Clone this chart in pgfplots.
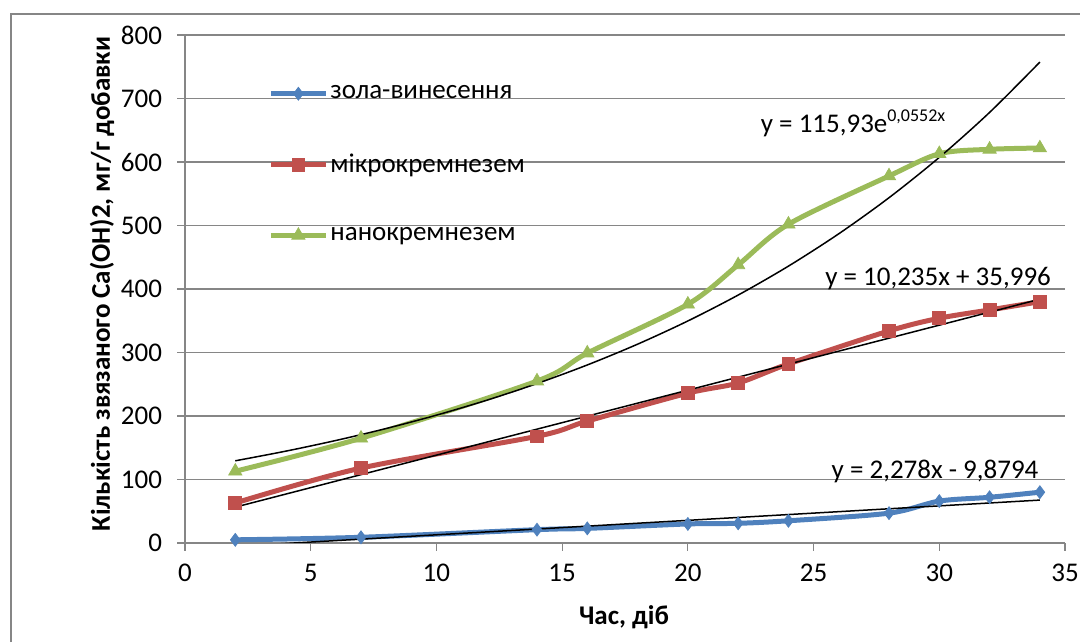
\documentclass[border=0pt]{standalone}
\usepackage{pgfplots}
\pgfplotsset{compat=1.18}
\usepackage{fontspec}
\setmainfont{Carlito}

\definecolor{xlblue}{HTML}{4F81BD}
\definecolor{xlred}{HTML}{C0504D}
\definecolor{xlgreen}{HTML}{9BBB59}
\definecolor{gridgray}{HTML}{868686}

\newcommand{\chartfont}{\fontsize{13.5}{15}\selectfont}

\begin{document}
\begin{tikzpicture}[x=1pt,y=1pt]
\useasboundingbox (0,0) rectangle (540,321);
% chart area frame
\draw[gridgray, line width=0.6pt] (5.5,0) -- (5.5,314) -- (540,314);

\begin{axis}[
  at={(92.5pt,49.5pt)}, anchor=south west,
  scale only axis, width=440pt, height=254pt,
  xmin=0, xmax=35, ymin=0, ymax=800,
  xtick={0,5,...,35}, ytick={0,100,...,800},
  axis x line*=bottom, axis y line*=left,
  axis line style={gridgray, line width=0.6pt},
  ymajorgrids, grid style={gridgray, line width=0.6pt},
  tick style={gridgray, line width=0.6pt},
  tick align=outside, major tick length=4pt,
  tick label style={font=\chartfont, text=black},
  /pgf/number format/assume math mode=true,
  xticklabel style={yshift=-3pt},
  yticklabel style={xshift=-4pt},
  clip=true,
  legend style={at={(axis cs:3.3,724)}, anchor=north west, draw=none, fill=none,
    font=\chartfont, row sep=24pt, inner sep=0pt, nodes={inner sep=1pt}},
  legend cell align=left,
  legend image code/.code={\draw[mark repeat=2,mark phase=2,#1]
    plot coordinates {(0pt,0pt) (13.75pt,0pt) (27.5pt,0pt)};},
]
% measured series
\addplot[xlblue, line width=2.5pt, smooth, mark=diamond*, mark size=3.2pt,
  mark options={solid, line width=0.4pt}]
  coordinates {(2,5) (7,9) (14,21) (16,23) (20,30) (22,31) (24,35) (28,47) (30,66) (32,72) (34,80)};
\addlegendentry{зола-винесення}
\addplot[xlred, line width=2.5pt, smooth, mark=square*, mark size=3.2pt,
  mark options={solid, line width=0.4pt}]
  coordinates {(2,63) (7,118) (14,168) (16,192) (20,236) (22,252) (24,282) (28,334) (30,354) (32,367) (34,380)};
\addlegendentry{мікрокремнезем}
\addplot[xlgreen, line width=2.5pt, smooth, mark=triangle*, mark size=3.8pt,
  mark options={solid, line width=0.4pt}]
  coordinates {(2,113) (7,165) (14,255) (16,299) (20,376) (22,438) (24,502) (28,578) (30,613) (32,620) (34,622)};
\addlegendentry{нанокремнезем}

% trend lines
\addplot[black, line width=0.75pt, forget plot] coordinates {(2,-5.32) (34,67.57)};
\addplot[black, line width=0.75pt, forget plot] coordinates {(2,56.47) (34,383.99)};
\addplot[black, line width=0.75pt, smooth, forget plot] coordinates {
  (2,129.46) (4,144.57) (6,161.45) (8,180.29) (10,201.34) (12,224.83) (14,251.07)
  (16,280.38) (18,313.10) (20,349.67) (22,390.46) (24,436.03) (26,486.93)
  (28,543.76) (30,607.28) (32,678.10) (34,757.32)};

\node[font=\chartfont] at (axis cs:26.57,661) {y = 115,93e\raisebox{5.5pt}{\fontsize{9}{10}\selectfont 0,0552x}};
\node[font=\chartfont] at (axis cs:29.95,417) {y = 10,235x + 35,996};
\node[font=\chartfont] at (axis cs:29.83,112) {y = 2,278x - 9,8794};
\end{axis}

\node[rotate=90, font=\chartfont\bfseries] at (51,179) {Кількість звязаного Ca(OH)2, мг/г добавки};
\node[font=\chartfont\bfseries] at (312,12.5) {Час, діб};
\end{tikzpicture}
\end{document}
